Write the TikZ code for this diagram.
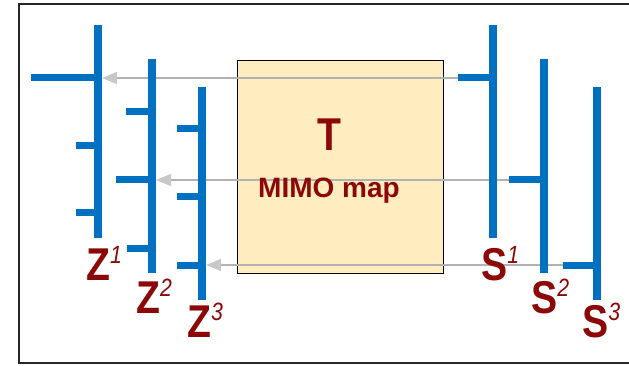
\documentclass[tikz,border=0pt]{standalone}
\usepackage{fontspec}
\setmainfont{Liberation Sans}
\usetikzlibrary{arrows.meta}

\definecolor{barblue}{RGB}{0,112,192}
\definecolor{labelred}{RGB}{140,8,8}
\definecolor{mapfill}{RGB}{255,237,192}
\definecolor{flowgray}{RGB}{178,178,178}
\definecolor{headgray}{RGB}{200,200,200}

\tikzset{
  bar/.style={barblue,line width=8pt},
  tick/.style={barblue,line width=7pt},
  flow/.style={flowgray,line width=1.4pt,-{Triangle[length=15pt,width=12pt,color=headgray]}},
  sig/.style={labelred,font=\bfseries\fontsize{46}{46}\selectfont,inner sep=0pt,anchor=base west,xscale=0.85}
}
\newcommand{\sigsup}[1]{\raisebox{17pt}{\mdseries\itshape\fontsize{25}{25}\selectfont #1}}

\begin{document}
\begin{tikzpicture}[x=1pt,y=-1pt]
    \useasboundingbox (0,0) rectangle (629,366);
    \fill[white] (0,0) rectangle (629,366);

    % Frame, open to the right
    \draw[black!85,line width=2pt] (640,4) -- (19,4) -- (19,363) -- (640,363);

    % MIMO map
    \draw[fill=mapfill,draw=black,line width=1pt] (237,61) rectangle (443,273);
    \coordinate (mapc) at (329,167);

    % Output bars Z
    \coordinate (z1) at (98,78);
    \coordinate (z2) at (152,180);
    \coordinate (z3) at (202,265);
    % Input bars S
    \coordinate (s1) at (458,78);
    \coordinate (s2) at (509,180);
    \coordinate (s3) at (563,265);

    % Flows from S to Z
    \draw[flow] (s1) -- ([xshift=4pt]z1);
    \draw[flow] (s2) -- ([xshift=4pt]z2);
    \draw[flow] (s3) -- ([xshift=4pt]z3);

    \node[labelred,font=\bfseries\fontsize{46}{46}\selectfont,inner sep=0pt,anchor=base,xscale=0.85] (tname) at (329,151) {T};
    \node[labelred,font=\bfseries\fontsize{28}{28}\selectfont,inner sep=0pt,anchor=base] (tmap) at (329,197) {MIMO map};

    % Z1
    \draw[bar] (98,25) -- (98,238);
    \draw[tick] (31,78) -- (z1);
    \draw[tick] (76,146) -- (98,146);
    \draw[tick] (76,213) -- (98,213);
    % Z2
    \draw[bar] (152,59) -- (152,273);
    \draw[tick] (126,112) -- (152,112);
    \draw[tick] (116,180) -- (z2);
    \draw[tick] (127,248) -- (152,248);
    % Z3
    \draw[bar] (202,87) -- (202,300);
    \draw[tick] (177,129) -- (202,129);
    \draw[tick] (177,197) -- (202,197);
    \draw[tick] (177,265) -- (z3);

    % S1, S2, S3
    \draw[bar] (493,25) -- (493,238);
    \draw[tick] (s1) -- (493,78);
    \draw[bar] (544,59) -- (544,273);
    \draw[tick] (s2) -- (544,180);
    \draw[bar] (597,87) -- (597,300);
    \draw[tick] (s3) -- (597,265);

    % Labels
    \node[sig] (lz1) at (86,280) {Z\sigsup{1}};
    \node[sig] (lz2) at (136,313) {Z\sigsup{2}};
    \node[sig] (lz3) at (187,337) {Z\sigsup{3}};
    \node[sig] (ls1) at (481,280) {S\sigsup{1}};
    \node[sig] (ls2) at (531,313) {S\sigsup{2}};
    \node[sig] (ls3) at (582,337) {S\sigsup{3}};
\end{tikzpicture}
\end{document}
